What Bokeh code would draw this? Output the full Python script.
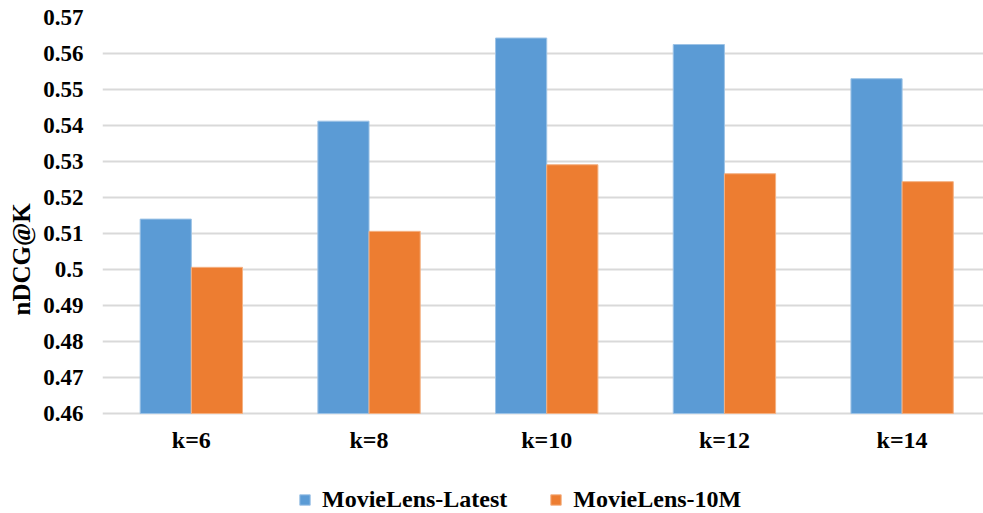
from bokeh.plotting import figure
from bokeh.models import (ColumnDataSource, Legend, LegendItem, Range1d, FixedTicker, Title)
from bokeh.transform import dodge
from bokeh.embed import file_html
from bokeh.resources import INLINE

categories = ["k=6", "k=8", "k=10", "k=12", "k=14"]
latest = [0.5140, 0.5412, 0.5643, 0.5625, 0.5530]
m10 = [0.5006, 0.5106, 0.5291, 0.5266, 0.5244]
series_names = ["MovieLens-Latest", "MovieLens-10M"]
y_ticks = [0.46, 0.47, 0.48, 0.49, 0.5, 0.51, 0.52, 0.53, 0.54, 0.55, 0.56, 0.57]

BLUE = "#5b9bd5"
ORANGE = "#ed7d31"
FONT = "Liberation Serif"

Y_MIN, Y_MAX = 0.46, 0.57
PLOT_H, BOTTOM_SPACE = 396, 100
y_start = Y_MIN - (Y_MAX - Y_MIN) * BOTTOM_SPACE / PLOT_H

pos = [i + 0.5 for i in range(len(categories))]
src = ColumnDataSource(dict(x=pos, latest=latest, m10=m10))

p = figure(x_range=Range1d(0, 4.958), y_range=Range1d(y_start, Y_MAX),
           frame_width=881, frame_height=PLOT_H + BOTTOM_SPACE,
           output_backend="svg", toolbar_location=None,
           min_border_left=102, min_border_right=0, min_border_top=17, min_border_bottom=0)
p.outline_line_color = None
p.background_fill_color = "white"

r1 = p.vbar(x=dodge("x", -0.144), top="latest", bottom=Y_MIN, width=0.288,
            source=src, fill_color=BLUE, line_color="#9dc3e6", line_width=1)
r2 = p.vbar(x=dodge("x", 0.144), top="m10", bottom=Y_MIN, width=0.288,
            source=src, fill_color=ORANGE, line_color="#f4b183", line_width=1)

p.yaxis.ticker = FixedTicker(ticks=y_ticks)
p.yaxis.major_label_overrides = {0.5: "0.5"}
p.yaxis.axis_line_color = None
p.yaxis.major_tick_line_color = None
p.yaxis.minor_tick_line_color = None
p.yaxis.major_label_text_font = FONT
p.yaxis.major_label_text_font_style = "bold"
p.yaxis.major_label_text_font_size = "23px"
p.yaxis.major_label_text_color = "#000000"
p.yaxis.major_label_standoff = 13

p.xaxis.fixed_location = Y_MIN
p.xaxis.ticker = FixedTicker(ticks=pos)
p.xaxis.major_label_overrides = {x: c for x, c in zip(pos, categories)}
p.xaxis.axis_line_color = None
p.xaxis.major_tick_line_color = None
p.xaxis.minor_tick_line_color = None
p.xaxis.major_label_text_font = FONT
p.xaxis.major_label_text_font_style = "bold"
p.xaxis.major_label_text_font_size = "24px"
p.xaxis.major_label_text_color = "#000000"
p.xaxis.major_label_standoff = 7

p.xgrid.grid_line_color = None
p.ygrid.grid_line_color = "#d9d9d9"
p.ygrid.grid_line_width = 2

ytitle = Title(text="nDCG@K", align="left", offset=198, standoff=11,
               text_font=FONT, text_font_style="bold", text_font_size="25px",
               text_color="#000000")
p.add_layout(ytitle, "left")

legend = Legend(items=[LegendItem(label=series_names[0], renderers=[r1]),
                       LegendItem(label=series_names[1], renderers=[r2])],
                orientation="horizontal", location=(196, 0),
                label_text_font=FONT, label_text_font_style="bold",
                label_text_font_size="24px", label_text_color="#000000",
                glyph_width=13, glyph_height=13, spacing=42, label_standoff=11,
                border_line_color=None, background_fill_alpha=0, margin=0, padding=0)
p.add_layout(legend)

open("out.html", "w").write(file_html(p, INLINE))
